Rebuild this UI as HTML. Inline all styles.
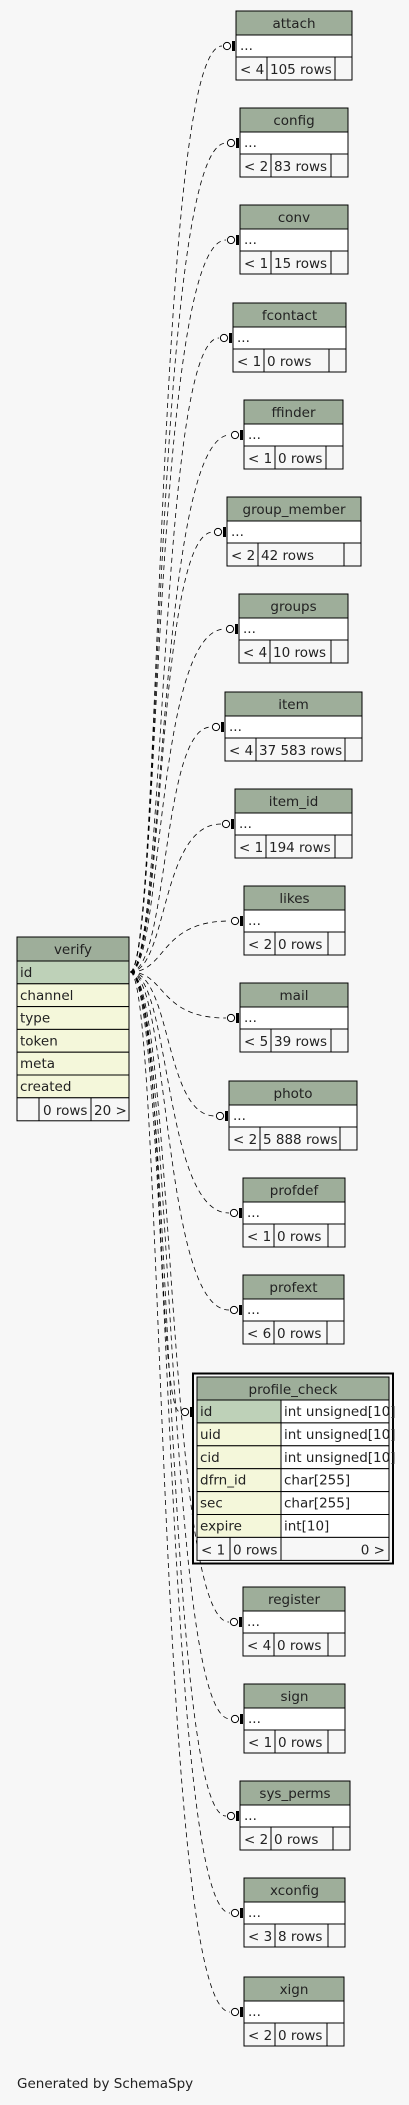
<!DOCTYPE html>
<html><head><meta charset="utf-8"><style>
html,body{margin:0;padding:0;background:#f7f7f7;}
svg{display:block;font-family:"DejaVu Sans","Liberation Sans",sans-serif;}
</style></head><body>
<svg id="d" width="409" height="2105" viewBox="0 0 409 2105" xmlns="http://www.w3.org/2000/svg">
<rect width="409" height="2105" fill="#f7f7f7"/>
<defs id="defs"></defs>
<g id="edges"></g>
<g id="tables"></g>
<text x="17" y="2088" font-size="13.5" fill="#222">Generated by SchemaSpy</text>
</svg>
<script>
const names=["attach","config","conv","fcontact","ffinder","group_member","groups","item","item_id","likes","mail","photo","profdef","profext","register","sign","sys_perms","xconfig","xign"];
const parentsCol=["< 4","< 2","< 1","< 1","< 1","< 2","< 4","< 4","< 1","< 2","< 5","< 2","< 1","< 6","< 4","< 1","< 2","< 3","< 2"];
const rowCounts=["105 rows","83 rows","15 rows","0 rows","0 rows","42 rows","10 rows","37 583 rows","194 rows","0 rows","39 rows","5 888 rows","0 rows","0 rows","0 rows","0 rows","0 rows","8 rows","0 rows"];
const tops=[11,108,205,303,400,497,594,692,789,886,983,1081,1178,1275,1587,1684,1781,1878,1977];
const lefts=[236,240,240,233,244,227,239,225,235,244,240,229,243,243,243,244,240,244,244];
const rights=[352,348,348,346,343,361,348,362,352,345,348,357,345,344,345,345,350,345,344];
const verifyCols=["id","channel","type","token","meta","created"];
const pcCols=["id","uid","cid","dfrn_id","sec","expire"];
const pcTypes=["int unsigned[10]","int unsigned[10]","int unsigned[10]","char[255]","char[255]","int[10]"];
const NS="http://www.w3.org/2000/svg";
const T=document.getElementById('tables'),E=document.getElementById('edges'),D=document.getElementById('defs');
const FS=13.5;
function el(tag,a,p){const e=document.createElementNS(NS,tag);for(const k in a)e.setAttribute(k,a[k]);(p||T).appendChild(e);return e;}
let clipId=0;
function txt(x,y,s,p,anchor,clip){
  const t=el('text',{x:x,y:y,'font-size':FS,fill:'#222','text-anchor':anchor||'start'},p);t.textContent=s;
  if(clip){const id='c'+(clipId++);const cp=el('clipPath',{id:id},D);el('rect',{x:clip[0],y:clip[1],width:clip[2],height:clip[3]},cp);t.setAttribute('clip-path','url(#'+id+')');}
  return t;}
const HDR="#9eae9a",PK="#bed1b8",COL="#f4f7da";
const src={x:130,y:972};
function edge(xt,yt,name){
  const g=el('g',{},E);
  
  
  const mx=160+((yt*7)%20);
  el('path',{d:`M${src.x},${src.y} C${mx},${src.y} ${mx-8},${yt} ${xt-14},${yt}`,fill:'none',stroke:'#000','stroke-width':0.8,'stroke-dasharray':'5,4'},g);
  el('circle',{cx:xt-9,cy:yt,r:3.6,fill:'#fff',stroke:'#000','stroke-width':1},g);
  el('rect',{x:xt-4,y:yt-5,width:3,height:10,fill:'#000'},g);
}
names.forEach((n,i)=>{
  const x=lefts[i],w=rights[i]-lefts[i],y=tops[i];
  const g=el('g',{});
  
  
  el('rect',{x:x,y:y,width:w,height:24,fill:HDR,stroke:'#000'},g);
  txt(x+w/2,y+17,n,g,'middle');
  el('rect',{x:x,y:y+24,width:w,height:22,fill:'#fff',stroke:'#000'},g);
  txt(x+4,y+39,'...',g);
  el('rect',{x:x,y:y+46,width:w,height:23,fill:'#f7f7f7',stroke:'#000'},g);
  const c1=x+31,c3=rights[i]-17;
  el('line',{x1:c1,y1:y+46,x2:c1,y2:y+69,stroke:'#000'},g);
  el('line',{x1:c3,y1:y+46,x2:c3,y2:y+69,stroke:'#000'},g);
  txt(x+4,y+63,parentsCol[i],g,'start',[x,y+46,c1-x-0.5,23]);
  txt(c1+3,y+63,rowCounts[i],g,'start',[c1,y+46,c3-c1-0.5,23]);
  edge(x,y+35,n);
});
(function(){
  const x=17,w=112,y=937;
  const g=el('g',{});
  
  
  el('rect',{x:x,y:y,width:w,height:24,fill:HDR,stroke:'#000'},g);
  txt(x+w/2,y+17,'verify',g,'middle');
  verifyCols.forEach((c,i)=>{
    const ry=y+24+i*22.8;
    el('rect',{x:x,y:ry,width:w,height:22.8,fill:i==0?PK:COL,stroke:'#000'},g);
    txt(x+3,ry+16,c,g);
  });
  const fy=y+24+6*22.8;
  el('rect',{x:x,y:fy,width:w,height:23,fill:'#f7f7f7',stroke:'#000'},g);
  el('line',{x1:39,y1:fy,x2:39,y2:fy+23,stroke:'#000'},g);
  el('line',{x1:91,y1:fy,x2:91,y2:fy+23,stroke:'#000'},g);
  txt(43,fy+17,'0 rows',g,'start',[39,fy,51.5,23]);
  txt(94,fy+17,'20 >',g,'start',[91,fy,37.5,23]);
})();
(function(){
  const x=197,w=192,y=1377;
  const g=el('g',{});
  
  
  el('rect',{x:193,y:1373.5,width:200,height:190,fill:'none',stroke:'#000','stroke-width':2},g);
  el('rect',{x:x,y:y,width:w,height:23,fill:HDR,stroke:'#000'},g);
  txt(x+w/2,y+17,'profile_check',g,'middle');
  pcCols.forEach((c,i)=>{
    const ry=y+23+i*22.9;
    el('rect',{x:x,y:ry,width:84,height:22.9,fill:i==0?PK:COL,stroke:'#000'},g);
    el('rect',{x:281,y:ry,width:108,height:22.9,fill:'#fff',stroke:'#000'},g);
    txt(x+3,ry+16,c,g);
    txt(284,ry+16,pcTypes[i],g);
  });
  const fy=y+23+6*22.9;
  el('rect',{x:x,y:fy,width:w,height:23,fill:'#f7f7f7',stroke:'#000'},g);
  el('line',{x1:230,y1:fy,x2:230,y2:fy+23,stroke:'#000'},g);
  el('line',{x1:281,y1:fy,x2:281,y2:fy+23,stroke:'#000'},g);
  txt(201,fy+17,'< 1',g);
  txt(233,fy+17,'0 rows',g,'start',[230,fy,50.5,23]);
  txt(385,fy+17,'0 >',g,'end');
  edge(194,y+35,'profile-check');
})();
</script>
</body></html>
